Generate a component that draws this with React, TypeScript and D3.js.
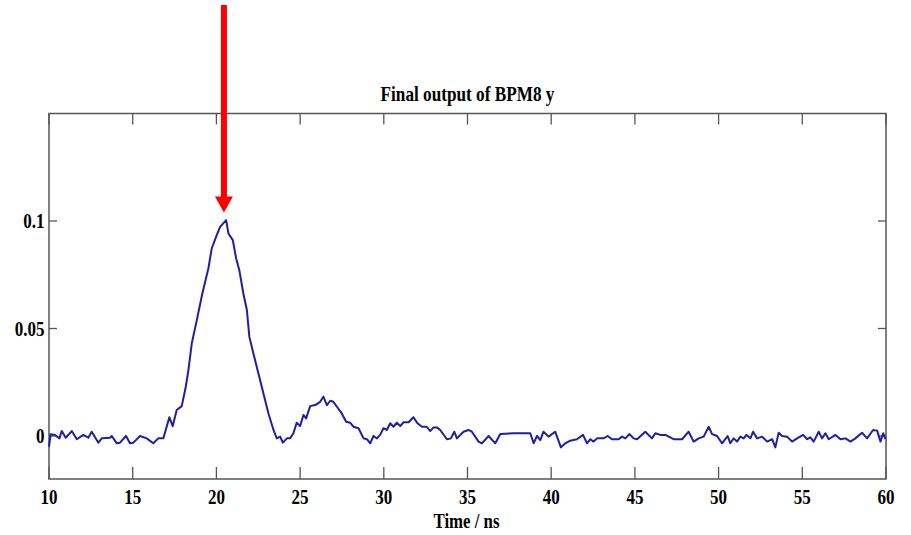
import * as d3 from "d3";

// time (ns) and signal value
const timeNs = [
  10.0, 10.1, 10.36, 10.62, 10.76, 11.0, 11.36, 11.66, 12.05, 12.35, 12.55, 12.95, 13.15, 13.65, 13.75,
  14.05, 14.24, 14.6, 14.84, 15.04, 15.44, 15.84, 16.23, 16.53, 16.83, 17.19, 17.39, 17.63, 17.93, 18.17,
  18.33, 18.53, 18.83, 19.16, 19.52, 19.72, 20.02, 20.22, 20.58, 20.72, 20.98, 21.18, 21.37, 21.61, 21.82,
  21.97, 22.21, 22.51, 22.81, 23.11, 23.41, 23.61, 23.81, 23.97, 24.21, 24.4, 24.6, 24.8, 25.0, 25.2,
  25.36, 25.6, 25.9, 26.2, 26.39, 26.6, 26.8, 26.99, 27.2, 27.49, 27.75, 27.99, 28.19, 28.49, 28.79,
  28.99, 29.19, 29.38, 29.59, 29.78, 29.98, 30.18, 30.38, 30.58, 30.78, 30.98, 31.18, 31.48, 31.77, 32.01,
  32.28, 32.57, 32.77, 32.97, 33.17, 33.37, 33.77, 34.01, 34.21, 34.37, 34.76, 35.06, 35.26, 35.66, 35.86,
  36.26, 36.66, 36.96, 37.75, 38.75, 38.95, 39.15, 39.35, 39.54, 39.84, 40.24, 40.58, 40.84, 41.14, 41.54,
  41.9, 42.14, 42.34, 42.53, 42.74, 43.13, 43.37, 43.63, 44.03, 44.23, 44.43, 44.68, 44.92, 45.13, 45.62,
  46.02, 46.22, 46.52, 46.82, 47.31, 47.82, 48.21, 48.51, 48.81, 49.11, 49.41, 49.61, 49.91, 50.21, 50.54,
  50.7, 50.9, 51.1, 51.3, 51.5, 51.66, 51.9, 52.06, 52.3, 52.6, 52.9, 53.2, 53.39, 53.59, 53.79,
  54.09, 54.39, 54.69, 55.05, 55.29, 55.48, 55.68, 55.98, 56.18, 56.38, 56.58, 56.98, 57.28, 57.58, 57.88,
  58.17, 58.57, 58.87, 59.23, 59.47, 59.67, 59.83, 59.97,
];

const bpm8y = [
  -0.005, 0.0008, 0.0005, -0.0011, 0.0023, -0.0008, 0.0023, -0.0015, 0.0005, -0.0008, 0.002, -0.0031, -0.0011, -0.0008, 0,
  -0.0034, -0.0031, 0, -0.0034, -0.0031, 0, -0.0011, -0.0034, -0.0011, -0.0011, 0.0087, 0.0046, 0.0121, 0.0139, 0.0229,
  0.0307, 0.0431, 0.0539, 0.0663, 0.0779, 0.0872, 0.0934, 0.0973, 0.1004, 0.0942, 0.0911, 0.0826, 0.0771, 0.0663, 0.0586,
  0.0461, 0.0384, 0.0291, 0.0198, 0.0105, 0.0028, -0.0011, -0.0003, -0.0031, -0.0011, -0.0011, 0.0013, 0.0062, 0.0046, 0.0098,
  0.0082, 0.0139, 0.0144, 0.0159, 0.0183, 0.0144, 0.0164, 0.0159, 0.0136, 0.0105, 0.0066, 0.0062, 0.0043, 0.0036, -0.0011,
  -0.0015, -0.0034, 0, -0.0011, 0.0005, 0.0036, 0.0028, 0.0059, 0.0043, 0.0062, 0.0046, 0.0064, 0.0064, 0.0087, 0.0059,
  0.0043, 0.0043, 0.0023, 0.004, 0.004, 0.0028, -0.0015, -0.0011, 0.002, -0.0011, 0.002, 0.0028, 0.002, -0.0026, -0.0034,
  0, -0.0034, 0.0009, 0.0013, 0.0013, -0.0034, 0, -0.0019, 0.002, -0.0003, 0.002, -0.0053, -0.0034, -0.0022, -0.0015,
  0.0005, -0.0034, -0.0015, -0.0026, -0.0011, -0.0011, 0, -0.0015, -0.0015, -0.0003, -0.0011, 0.0009, -0.0011, -0.0015, 0.002,
  -0.0011, 0.0013, 0.0005, 0.0005, -0.0015, -0.0015, 0.002, -0.0026, -0.0011, -0.0003, 0.0043, 0.0009, 0, -0.0034, 0,
  -0.0034, -0.0011, -0.0026, -0.0003, -0.0011, 0.0005, -0.0011, 0.002, -0.0011, -0.0003, -0.0026, -0.0015, -0.0053, 0.0015, 0,
  -0.0003, -0.0026, -0.0011, 0.0005, -0.0015, -0.0006, -0.0026, 0.002, -0.0011, 0.0013, -0.0015, 0.0005, -0.0015, -0.0011, -0.0026,
  -0.0011, 0.0015, -0.0011, 0.0028, 0.0025, -0.0026, 0.0013, -0.0015,
];

const xTicks = [10, 15, 20, 25, 30, 35, 40, 45, 50, 55, 60];
const yTicks = [0, 0.05, 0.1];
const xDomain = [10, 60];
const yDomain = [-0.02, 0.15];

// red arrow pointing at the peak
const arrowTime = 20.45;
const arrowTipValue = 0.104;

const W = 911;
const H = 535;
const left = 49;
const right = 886;
const top = 113.5;
const bottom = 479;

const serif = "'Liberation Serif', 'Times New Roman', serif";

export default function App() {
  const x = d3.scaleLinear().domain(xDomain).range([left, right]);
  const y = d3.scaleLinear().domain(yDomain).range([bottom, top]);

  const pts = timeNs.map((t, i) => [t, bpm8y[i]] as [number, number]);
  const line = d3
    .line<[number, number]>()
    .x(d => x(d[0]))
    .y(d => y(d[1]));

  const ax = x(arrowTime);
  const tipY = y(arrowTipValue);
  const headH = 16;
  const headW = 9;
  const shaftW = 3;
  const arrowPath = [
    `M${ax - shaftW},5`,
    `L${ax + shaftW},5`,
    `L${ax + shaftW},${tipY - headH}`,
    `L${ax + headW},${tipY - headH}`,
    `L${ax},${tipY}`,
    `L${ax - headW},${tipY - headH}`,
    `L${ax - shaftW},${tipY - headH}`,
    "Z",
  ].join(" ");

  const axisColor = "#555";

  return (
    <svg
      width={W}
      height={H}
      style={{ position: "absolute", left: 0, top: 0, background: "#fff" }}
    >
      <rect x={0} y={0} width={W} height={H} fill="#fff" />

      {/* ticks, inward on all four sides */}
      {xTicks.map(t => (
        <g key={"xt" + t}>
          <line x1={x(t)} x2={x(t)} y1={bottom} y2={bottom - 12} stroke={axisColor} strokeWidth={1.3} />
          <line x1={x(t)} x2={x(t)} y1={top} y2={top + 11} stroke={axisColor} strokeWidth={1.3} />
          <text
            transform={`translate(${x(t)},504) scale(0.85,1)`}
            textAnchor="middle"
            fontFamily={serif}
            fontWeight="bold"
            fontSize={20}
            fill="#000"
          >
            {t}
          </text>
        </g>
      ))}
      {yTicks.map(v => (
        <g key={"yt" + v}>
          <line x1={left} x2={left + 8} y1={y(v)} y2={y(v)} stroke={axisColor} strokeWidth={1.3} />
          <line x1={right} x2={right - 8} y1={y(v)} y2={y(v)} stroke={axisColor} strokeWidth={1.3} />
          <text
            transform={`translate(44.5,${y(v) + 7}) scale(0.85,1)`}
            textAnchor="end"
            fontFamily={serif}
            fontWeight="bold"
            fontSize={20}
            fill="#000"
          >
            {v}
          </text>
        </g>
      ))}

      {/* axes box */}
      <rect
        x={left}
        y={top}
        width={right - left}
        height={bottom - top}
        fill="none"
        stroke={axisColor}
        strokeWidth={1.5}
      />

      <path
        d={line(pts) || ""}
        fill="none"
        stroke="#1f1fa3"
        strokeWidth={2}
        strokeLinejoin="round"
      />

      <text
        transform={`translate(${(left + right) / 2},101) scale(0.86,1)`}
        textAnchor="middle"
        fontFamily={serif}
        fontWeight="bold"
        fontSize={20}
        fill="#000"
      >
        Final output of BPM8 y
      </text>

      <text
        transform={`translate(${(left + right) / 2 - 1},528) scale(0.8,1)`}
        textAnchor="middle"
        fontFamily={serif}
        fontWeight="bold"
        fontSize={21}
        fill="#000"
      >
        Time / ns
      </text>

      <path d={arrowPath} fill="#ff0000" />
    </svg>
  );
}
